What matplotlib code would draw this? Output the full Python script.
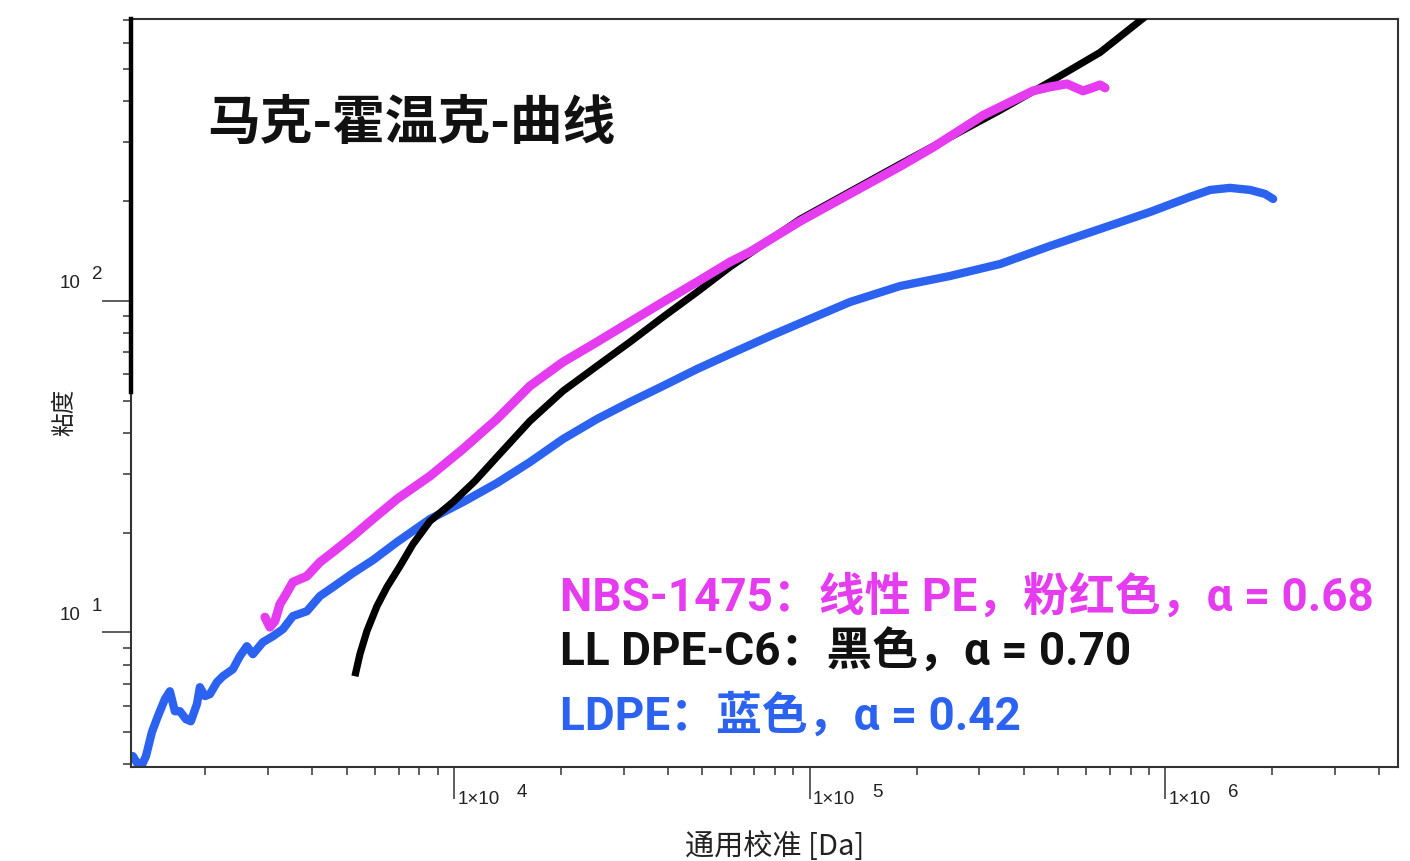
import matplotlib
matplotlib.use('Agg')
import matplotlib.pyplot as plt
from matplotlib.ticker import LogLocator, NullFormatter

CJK = ['Noto Sans CJK SC', 'DejaVu Sans']
LATIN = ['Roboto', 'Noto Sans CJK SC', 'DejaVu Sans']

# LDPE (blue)
ldpe_m = [1250, 1291, 1325, 1361, 1414, 1470, 1538, 1589, 1641, 1695, 1763, 1820,
          1893, 1930, 1994, 2060, 2155, 2240, 2390, 2500, 2616, 2720, 2902, 3096,
          3303, 3524, 3859, 4198, 4568, 5198, 5917, 6912, 8560, 10600, 13210, 16360,
          20260, 25250, 31270, 38730, 48270, 59750, 77450, 100300, 130000, 179800,
          248400, 343500, 474800, 656300, 907400, 1175000, 1339000, 1523000,
          1734000, 1911000, 2013000]
ldpe_eta = [4.24, 4.01, 3.98, 4.24, 5.00, 5.59, 6.29, 6.65, 5.79, 5.79, 5.48, 5.40,
            6.08, 6.84, 6.43, 6.52, 7.08, 7.38, 7.75, 8.48, 9.09, 8.60, 9.35, 9.74,
            10.23, 11.20, 11.59, 12.87, 13.70, 15.10, 16.52, 18.72, 21.97, 24.72,
            28.2, 32.63, 38.28, 43.98, 49.48, 55.33, 62.23, 69.08, 78.26, 88.1,
            99.1, 110.7, 118.7, 129.0, 146.2, 164.5, 185.1, 205.5, 215.7, 218.8,
            215.7, 209.8, 202.6]

# NBS-1475 linear PE (magenta)
nbs_m = [2940, 3037, 3137, 3240, 3347, 3524, 3859, 4198, 4568, 5198, 5917, 6912,
         8560, 10600, 13210, 16360, 20260, 25250, 31270, 38730, 48270, 59750,
         68020, 94040, 130000, 179800, 222600, 307600, 425300, 474800, 530100,
         587500, 623400, 656300, 678100]
nbs_eta = [11.12, 10.38, 10.82, 12.17, 12.87, 14.18, 14.78, 16.29, 17.47, 19.52,
           21.97, 25.23, 29.60, 35.71, 43.98, 55.33, 65.33, 75.08, 86.26, 99.1,
           113.9, 130.8, 140.3, 173.5, 210.0, 254.0, 290.0, 362.0, 429.0, 441.0,
           450.3, 429.0, 437.9, 447.2, 437.9]

# LL DPE-C6 (black)
lldpe_m = [5266, 5440, 5691, 6074, 6479, 7050, 7669, 8560, 9936, 11460, 13210,
           16360, 20260, 25250, 31270, 38730, 48270, 59750, 94040, 179800, 343500,
           474800, 656300, 878200]
lldpe_eta = [7.38, 8.60, 10.09, 12.00, 13.70, 15.84, 18.46, 21.65, 24.72, 28.6,
             33.8, 43.38, 53.43, 63.55, 75.08, 89.3, 106.2, 126.4, 176.0, 258.0,
             375.0, 457.0, 560.0, 717.3]

legend_lines = ['NBS-1475：线性 PE，粉红色，α = 0.68',
                'LL DPE-C6：黑色，α = 0.70',
                'LDPE：蓝色，α = 0.42']

PINK = '#e63cf0'
BLUE = '#2b62f0'

fig = plt.figure(figsize=(14.1, 8.62), dpi=100)
ax = fig.add_axes([0.0927, 0.109, 0.8988, 0.8677])
ax.set_xscale('log')
ax.set_yscale('log')
ax.set_xlim(1233, 4.52e6)
ax.set_ylim(3.93, 706)

ax.plot(ldpe_m, ldpe_eta, color=BLUE, lw=6, solid_capstyle='round', zorder=2)
ax.plot(lldpe_m, lldpe_eta, color='black', lw=5.2, solid_capstyle='butt', zorder=3)
ax.plot(nbs_m, nbs_eta, color=PINK, lw=6.5, solid_capstyle='round', zorder=4)

for s in ax.spines.values():
    s.set_color('#333333')
    s.set_linewidth(1.5)
# heavier upper part of the left axis line
ax.plot([0, 0], [53.0, 706], transform=ax.get_yaxis_transform(), color='black',
        lw=3.2, clip_on=False, zorder=5)

for axis in (ax.xaxis, ax.yaxis):
    axis.set_major_locator(LogLocator(base=10))
    axis.set_minor_locator(LogLocator(base=10, subs=range(2, 10)))
    axis.set_major_formatter(NullFormatter())
    axis.set_minor_formatter(NullFormatter())
ax.tick_params(which='minor', direction='out', length=6, width=1.1, color='#333333')
ax.tick_params(axis='x', which='major', direction='out', length=23, width=1.1, color='#333333')
ax.tick_params(axis='y', which='major', direction='out', length=21, width=1.1, color='#333333')

tick_font = dict(family=['Liberation Sans', 'DejaVu Sans'], fontsize=13.5, color='#222222')
for k in (1, 2):
    ax.annotate('10', xy=(0, 10 ** k), xycoords=('axes fraction', 'data'),
                xytext=(-36.5, 13), textcoords='offset points', ha='right', va='center', **tick_font)
    ax.annotate(str(k), xy=(0, 10 ** k), xycoords=('axes fraction', 'data'),
                xytext=(-24.3, 19.5), textcoords='offset points', ha='center', va='center', **tick_font)
for k in (4, 5, 6):
    ax.annotate('1×10', xy=(10 ** k, 0), xycoords=('data', 'axes fraction'),
                xytext=(2.5, -23), textcoords='offset points', ha='left', va='center', **tick_font)
    ax.annotate(str(k), xy=(10 ** k, 0), xycoords=('data', 'axes fraction'),
                xytext=(49, -17.5), textcoords='offset points', ha='center', va='center', **tick_font)

fig.text(65 / 1410, 1 - 412 / 862, '粘度', rotation=90, ha='center', va='center',
         fontsize=17, family=CJK, color='#222222')
fig.text(775 / 1410, 1 - 847 / 862, '通用校准 [Da]', ha='center', va='center',
         fontsize=21, family=CJK, color='#222222')

fig.text(207 / 1410, 1 - 123 / 862, '马克-霍温克-曲线', ha='left', va='center',
         fontsize=38, fontweight='bold', family=CJK, color='#111111')

for text, color, ypix in zip(legend_lines, [PINK, '#111111', BLUE], [597, 652, 716]):
    fig.text(560 / 1410, 1 - ypix / 862, text, ha='left', va='center',
             fontsize=33, fontweight='bold', family=LATIN, color=color)

fig.savefig('out.png', dpi=100, facecolor='white')
